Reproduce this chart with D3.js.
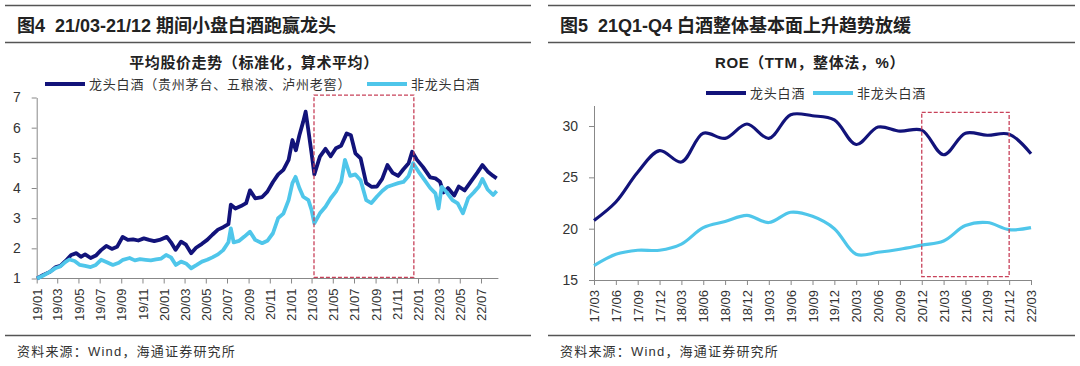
<!DOCTYPE html>
<html>
<head>
<meta charset="utf-8">
<script src="https://cdn.jsdelivr.net/npm/d3@7"></script>
<style>
  body { margin: 0; background: #fff; }
  svg { display: block; font-family: Arial, "Liberation Sans", "Noto Sans CJK SC", sans-serif; }
</style>
</head>
<body>
<svg id="chart" width="1080" height="366"></svg>
<script>

// ---------------- DATA ----------------
var panelTitles = ["图4  21/03-21/12 期间小盘白酒跑赢龙头", "图5  21Q1-Q4 白酒整体基本面上升趋势放缓"];
var chartTitles = ["平均股价走势（标准化，算术平均）", "ROE（TTM，整体法，%）"];
var sourceText = "资料来源：Wind，海通证券研究所";
var priceLegend = ["龙头白酒（贵州茅台、五粮液、泸州老窖）", "非龙头白酒"];
var roeLegend = ["龙头白酒", "非龙头白酒"];

// average normalised price, leaders (Moutai, Wuliangye, Luzhou Laojiao)
var leaderPrice = [
  ["2019-01-02",1.00],["2019-01-20",1.12],["2019-02-08",1.22],["2019-02-25",1.38],["2019-03-10",1.42],
  ["2019-03-25",1.58],["2019-04-10",1.78],["2019-04-25",1.84],["2019-05-08",1.72],["2019-05-20",1.80],
  ["2019-06-05",1.68],["2019-06-20",1.76],["2019-07-05",1.94],["2019-07-20",2.08],["2019-08-05",1.98],
  ["2019-08-20",2.05],["2019-09-05",2.38],["2019-09-20",2.28],["2019-10-05",2.30],["2019-10-20",2.26],
  ["2019-11-05",2.33],["2019-11-20",2.28],["2019-12-05",2.24],["2019-12-20",2.28],["2020-01-10",2.38],
  ["2020-01-22",2.20],["2020-02-04",1.95],["2020-02-20",2.22],["2020-03-05",2.12],["2020-03-20",1.84],
  ["2020-04-03",2.02],["2020-04-20",2.15],["2020-05-05",2.28],["2020-05-20",2.45],["2020-06-05",2.62],
  ["2020-06-20",2.70],["2020-07-05",2.80],["2020-07-12",3.45],["2020-07-25",3.32],["2020-08-10",3.40],
  ["2020-08-25",3.50],["2020-09-05",3.92],["2020-09-20",3.66],["2020-10-10",3.70],["2020-10-25",3.88],
  ["2020-11-10",4.20],["2020-11-25",4.45],["2020-12-10",4.60],["2020-12-25",4.93],["2021-01-05",5.59],
  ["2021-01-15",5.25],["2021-01-25",5.75],["2021-02-05",6.20],["2021-02-12",6.53],["2021-02-20",5.90],
  ["2021-03-01",5.15],["2021-03-09",4.45],["2021-03-25",5.04],["2021-04-10",5.30],["2021-04-25",5.05],
  ["2021-05-10",5.32],["2021-05-25",5.40],["2021-06-10",5.81],["2021-06-22",5.75],["2021-07-05",5.15],
  ["2021-07-20",4.98],["2021-08-05",4.16],["2021-08-20",4.04],["2021-09-05",4.05],["2021-09-20",4.30],
  ["2021-10-05",4.76],["2021-10-20",4.50],["2021-11-05",4.40],["2021-11-20",4.62],["2021-12-05",4.82],
  ["2021-12-15",5.20],["2021-12-28",4.95],["2022-01-15",4.70],["2022-02-05",4.35],["2022-02-20",4.32],
  ["2022-03-05",4.21],["2022-03-15",3.85],["2022-03-28",4.00],["2022-04-15",3.75],["2022-04-28",4.05],
  ["2022-05-15",3.92],["2022-06-05",4.26],["2022-06-20",4.50],["2022-07-05",4.76],["2022-07-20",4.55],
  ["2022-08-05",4.40],["2022-08-15",4.32]
];

// average normalised price, non-leaders
var otherPrice = [
  ["2019-01-02",1.00],["2019-01-20",1.10],["2019-02-08",1.22],["2019-02-25",1.35],["2019-03-10",1.40],
  ["2019-03-25",1.55],["2019-04-05",1.63],["2019-04-20",1.58],["2019-05-05",1.45],["2019-05-20",1.42],
  ["2019-06-05",1.38],["2019-06-20",1.45],["2019-07-05",1.62],["2019-07-20",1.55],["2019-08-08",1.45],
  ["2019-08-25",1.52],["2019-09-06",1.62],["2019-09-25",1.68],["2019-10-10",1.60],["2019-10-25",1.64],
  ["2019-11-10",1.62],["2019-11-25",1.60],["2019-12-10",1.63],["2019-12-25",1.66],["2020-01-08",1.78],
  ["2020-01-22",1.70],["2020-02-05",1.45],["2020-02-20",1.56],["2020-03-05",1.50],["2020-03-20",1.34],
  ["2020-04-05",1.45],["2020-04-20",1.56],["2020-05-05",1.62],["2020-05-20",1.70],["2020-06-05",1.80],
  ["2020-06-20",1.94],["2020-07-05",2.20],["2020-07-12",2.66],["2020-07-20",2.20],["2020-08-05",2.25],
  ["2020-08-20",2.39],["2020-09-05",2.55],["2020-09-20",2.28],["2020-10-10",2.17],["2020-10-25",2.25],
  ["2020-11-10",2.50],["2020-11-25",3.00],["2020-12-10",3.15],["2020-12-25",3.60],["2021-01-05",4.16],
  ["2021-01-14",4.37],["2021-01-25",4.00],["2021-02-05",3.71],["2021-02-20",3.60],["2021-03-01",3.27],
  ["2021-03-09",2.83],["2021-03-25",3.16],["2021-04-10",3.38],["2021-04-25",3.66],["2021-05-10",3.88],
  ["2021-05-25",4.20],["2021-06-05",4.93],["2021-06-20",4.40],["2021-07-05",4.45],["2021-07-20",4.26],
  ["2021-08-05",3.60],["2021-08-20",3.50],["2021-09-05",3.72],["2021-09-20",3.90],["2021-10-05",4.04],
  ["2021-10-20",4.10],["2021-11-05",4.16],["2021-11-20",4.20],["2021-12-05",4.40],["2021-12-18",4.82],
  ["2022-01-05",4.50],["2022-01-20",4.26],["2022-02-05",4.00],["2022-02-20",3.82],["2022-03-01",3.32],
  ["2022-03-10",4.04],["2022-03-25",3.85],["2022-04-10",3.60],["2022-04-25",3.49],["2022-05-10",3.16],
  ["2022-05-25",3.66],["2022-06-10",3.85],["2022-06-25",4.05],["2022-07-05",4.30],["2022-07-20",3.95],
  ["2022-08-05",3.77],["2022-08-15",3.90]
];

var priceTicks = [1, 2, 3, 4, 5, 6, 7];
var priceHighlight = ["2021-03-08", "2021-12-20"];

// ROE (TTM), quarterly
var roeQuarters = ["17/03","17/06","17/09","17/12","18/03","18/06","18/09","18/12","19/03","19/06","19/09",
                   "19/12","20/03","20/06","20/09","20/12","21/03","21/06","21/09","21/12","22/03"];
var roeLeader = [20.8,22.6,25.5,27.6,26.5,29.3,28.8,30.2,28.8,31.1,31.0,30.6,28.2,29.9,29.5,29.6,27.2,29.3,29.1,29.2,27.3];
var roeOther  = [16.4,17.5,17.9,17.9,18.5,20.1,20.7,21.3,20.6,21.6,21.2,20.0,17.5,17.7,18.0,18.4,18.8,20.3,20.6,19.9,20.1];
var roeTicks = [15, 20, 25, 30];
var roeHighlight = ["20/12", "21/12"];

// ---------------- STYLE ----------------
var darkBlue = "#12137a";
var lightBlue = "#4fc6ea";
var boxRed = "#c8425a";
var textColor = "#333";
var cjk = "'Noto Sans CJK SC', sans-serif";

var svg = d3.select("#chart");
var parseDate = d3.timeParse("%Y-%m-%d");

/**************** PANEL FRAMES ****************/
function drawFrame(x0, x1, title, chartTitle, titleCx) {
  [5.5, 42.5, 335.5].forEach(function(y) {
    svg.append("line").attr("x1", x0).attr("x2", x1).attr("y1", y).attr("y2", y)
      .attr("stroke", "#555").attr("stroke-width", 1.5);
  });

  svg.append("text").attr("x", x0 + 12).attr("y", 32)
    .style("font-family", "Arial, " + cjk)
    .style("font-size", "18px").style("font-weight", "bold").attr("fill", "#222")
    .style("white-space", "pre")
    .text(title);

  svg.append("text").attr("x", titleCx).attr("y", 68)
    .attr("text-anchor", "middle")
    .style("font-family", "Arial, " + cjk)
    .style("font-size", "15px").style("font-weight", "bold").attr("fill", "#222")
    .style("letter-spacing", "0.6px")
    .text(chartTitle);

  svg.append("text").attr("x", x0 + 12).attr("y", 356)
    .style("font-family", "Arial, " + cjk)
    .style("font-size", "13px").attr("fill", textColor)
    .style("letter-spacing", "1.2px")
    .text(sourceText);
}

drawFrame(5, 531, panelTitles[0], chartTitles[0], 254);
drawFrame(548, 1075, panelTitles[1], chartTitles[1], 810);

function drawLegend(items, y) {
  items.forEach(function(it) {
    svg.append("line").attr("x1", it.x).attr("x2", it.x + 40).attr("y1", y).attr("y2", y)
      .attr("stroke", it.color).attr("stroke-width", 4);
    svg.append("text").attr("x", it.x + 44).attr("y", y).attr("dy", "0.35em")
      .style("font-family", cjk).style("font-size", "13px").style("letter-spacing", "0.8px")
      .attr("fill", textColor).text(it.label);
  });
}

function styleAxis(g) {
  g.selectAll("path, line").attr("stroke", "#888");
  g.selectAll("text").attr("fill", textColor).style("font-size", "13px").style("font-family", "Arial, sans-serif");
}

/**************** LEFT: PRICE ****************/
var xPrice = d3.scaleTime()
  .domain([parseDate("2019-01-01"), parseDate("2022-07-01")])
  .range([36.7, 481]);
var yPrice = d3.scaleLinear().domain([1, 7]).range([278.5, 97.5]);
var xEnd = parseDate("2022-08-20");

var gLeft = svg.append("g");

var xAxisL = gLeft.append("g")
  .attr("transform", "translate(0," + yPrice(1) + ")")
  .call(d3.axisBottom(xPrice)
    .tickValues(d3.timeMonth.every(2).range(parseDate("2019-01-01"), parseDate("2022-08-01")))
    .tickFormat(d3.timeFormat("%y/%m"))
    .tickSize(5).tickSizeOuter(0));
xAxisL.select(".domain").attr("d", "M" + xPrice.range()[0] + ",0H" + xPrice(xEnd));
styleAxis(xAxisL);
xAxisL.selectAll("text")
  .attr("transform", "rotate(-90)")
  .attr("x", -10).attr("y", 0).attr("dy", "0.35em")
  .style("text-anchor", "end");

var yAxisL = gLeft.append("g")
  .attr("transform", "translate(" + xPrice.range()[0] + ",0)")
  .call(d3.axisLeft(yPrice).tickValues(priceTicks).tickFormat(d3.format("d"))
    .tickSize(5).tickPadding(11).tickSizeOuter(0));
styleAxis(yAxisL);
yAxisL.selectAll("text").style("font-size", "14px");

var priceLine = d3.line()
  .x(function(d) { return xPrice(parseDate(d[0])); })
  .y(function(d) { return yPrice(d[1]); });

gLeft.append("path").datum(leaderPrice)
  .attr("fill", "none").attr("stroke", darkBlue).attr("stroke-width", 3.8)
  .attr("stroke-linejoin", "round").attr("d", priceLine);
gLeft.append("path").datum(otherPrice)
  .attr("fill", "none").attr("stroke", lightBlue).attr("stroke-width", 3.8)
  .attr("stroke-linejoin", "round").attr("d", priceLine);

gLeft.append("rect")
  .attr("x", xPrice(parseDate(priceHighlight[0])))
  .attr("y", yPrice(7.08))
  .attr("width", xPrice(parseDate(priceHighlight[1])) - xPrice(parseDate(priceHighlight[0])))
  .attr("height", yPrice(1.04) - yPrice(7.08))
  .attr("fill", "none").attr("stroke", boxRed).attr("stroke-width", 1.3)
  .attr("stroke-dasharray", "4,2");

drawLegend([
  {x: 45, color: darkBlue, label: priceLegend[0]},
  {x: 367, color: lightBlue, label: priceLegend[1]}
], 84);

/**************** RIGHT: ROE ****************/
var xRoe = d3.scalePoint().domain(roeQuarters).range([594, 1031]);
var yRoe = d3.scaleLinear().domain([15, 32]).range([280, 105.5]);

var gRight = svg.append("g");

var xAxisR = gRight.append("g")
  .attr("transform", "translate(0," + yRoe(15) + ")")
  .call(d3.axisBottom(xRoe).tickSize(5).tickSizeOuter(0));
styleAxis(xAxisR);
xAxisR.selectAll("text")
  .attr("transform", "rotate(-90)")
  .attr("x", -10).attr("y", 0).attr("dy", "0.35em")
  .style("text-anchor", "end");

var yAxisR = gRight.append("g")
  .attr("transform", "translate(" + xRoe.range()[0] + ",0)")
  .call(d3.axisLeft(yRoe).tickValues(roeTicks).tickSize(5).tickPadding(11).tickSizeOuter(0));
styleAxis(yAxisR);
yAxisR.selectAll("text").style("font-size", "14px");

var roeLine = d3.line()
  .curve(d3.curveCatmullRom.alpha(0.5))
  .x(function(d, i) { return xRoe(roeQuarters[i]); })
  .y(function(d) { return yRoe(d); });

gRight.append("path").datum(roeLeader)
  .attr("fill", "none").attr("stroke", darkBlue).attr("stroke-width", 3.2)
  .attr("d", roeLine);
gRight.append("path").datum(roeOther)
  .attr("fill", "none").attr("stroke", lightBlue).attr("stroke-width", 3.2)
  .attr("d", roeLine);

gRight.append("rect")
  .attr("x", xRoe(roeHighlight[0]))
  .attr("y", yRoe(31.33))
  .attr("width", xRoe(roeHighlight[1]) - xRoe(roeHighlight[0]))
  .attr("height", yRoe(15.32) - yRoe(31.33))
  .attr("fill", "none").attr("stroke", boxRed).attr("stroke-width", 1.3)
  .attr("stroke-dasharray", "4,2");

drawLegend([
  {x: 706, color: darkBlue, label: roeLegend[0]},
  {x: 813, color: lightBlue, label: roeLegend[1]}
], 93);

</script>
</body>
</html>
